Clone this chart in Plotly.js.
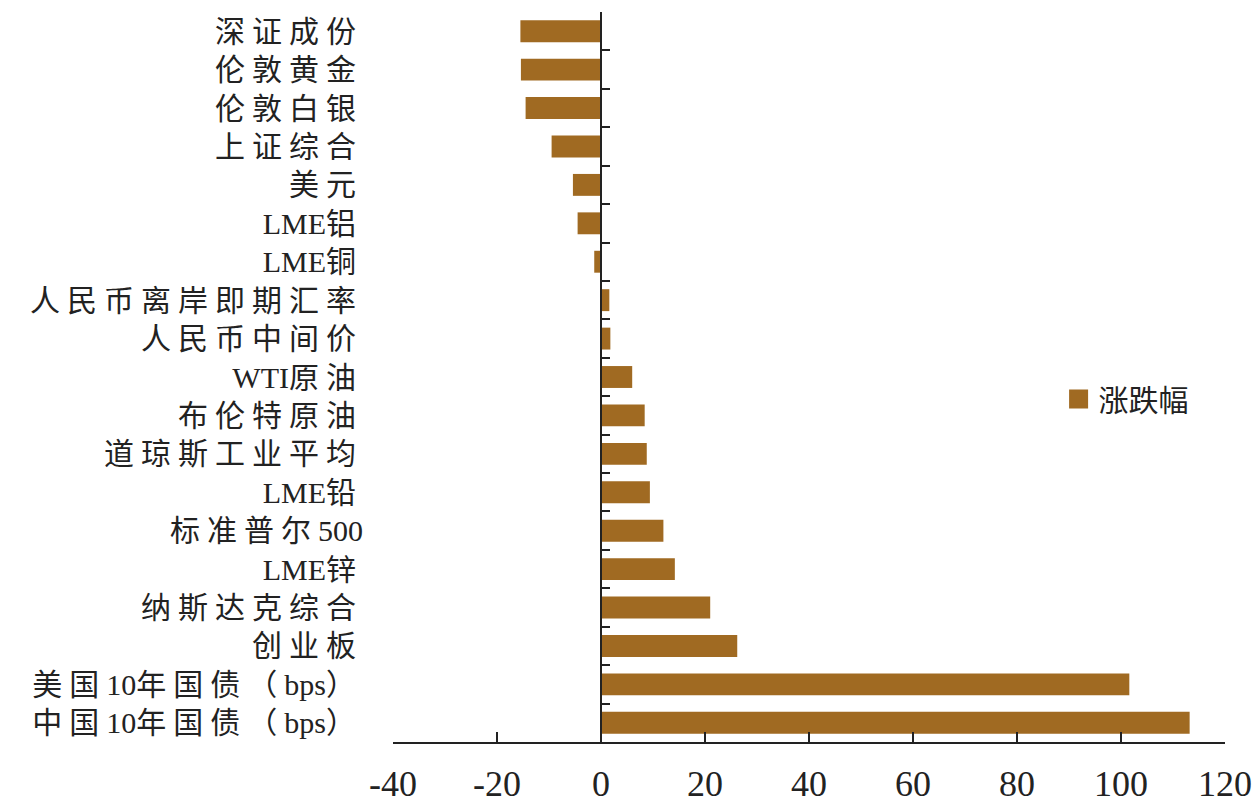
<!DOCTYPE html>
<html>
<head>
<meta charset="utf-8">
<script src="https://cdn.plot.ly/plotly-3.0.1.min.js"></script>
<style>
html,body{margin:0;padding:0;background:#fff;}
#chart{width:1254px;height:803px;}
#chart .ytick text{letter-spacing:7px;}
#chart .legendpoints path{stroke:#A06A22 !important;stroke-width:7px !important;stroke-opacity:1 !important;}
</style>
</head>
<body>
<div id="chart"></div>
<script>
// Categories listed top to bottom
const categories = [
  "深证成份", "伦敦黄金", "伦敦白银", "上证综合", "美元", "LME铝", "LME铜",
  "人民币离岸即期汇率", "人民币中间价", "WTI原油", "布伦特原油", "道琼斯工业平均",
  "LME铅", "标准普尔500", "LME锌", "纳斯达克综合", "创业板",
  "美国10年国债（bps）", "中国10年国债（bps）"
];
const changes = [
  -15.5, -15.4, -14.5, -9.5, -5.4, -4.5, -1.3,
  1.6, 1.8, 6.0, 8.4, 8.8,
  9.4, 12.0, 14.2, 21.0, 26.2,
  101.6, 113.2
];
const seriesName = "涨跌幅";
const xTickVals = [-40, -20, 0, 20, 40, 60, 80, 100, 120];

const barColor = "#A06A22";
const inkColor = "#222222";
const fontFamily = "'Liberation Serif', 'Noto Sans CJK SC', serif";

// Latin runs keep normal spacing; CJK runs are spaced out via CSS
const categoryLabels = categories.map(c =>
  c.replace(/[A-Za-z0-9]+/g, m => '<span style="letter-spacing:0px">' + m + '</span>')
);

const traces = [
  {
    type: "bar",
    orientation: "h",
    x: changes,
    y: categories,
    name: seriesName,
    marker: {color: barColor},
    hoverinfo: "x+y"
  },
  {
    type: "bar",
    orientation: "h",
    x: changes,
    y: categories,
    yaxis: "y2",
    showlegend: false,
    opacity: 0,
    hoverinfo: "skip"
  }
];

const layout = {
  width: 1254,
  height: 803,
  margin: {l: 393, r: 29, t: 12, b: 61},
  paper_bgcolor: "#ffffff",
  plot_bgcolor: "#ffffff",
  bargap: 0.43,
  showlegend: true,
  legend: {
    x: 0.80, y: 0.47, xanchor: "left", yanchor: "middle",
    font: {family: fontFamily, size: 30, color: inkColor},
    bgcolor: "rgba(0,0,0,0)",
    itemclick: false
  },
  xaxis: {
    range: [-40, 120],
    tickvals: xTickVals,
    ticktext: xTickVals.map(v => String(v)),
    showgrid: false,
    zeroline: false,
    showline: true,
    linecolor: inkColor,
    linewidth: 2,
    ticks: "inside",
    ticklen: 10,
    tickwidth: 2,
    tickcolor: inkColor,
    ticklabelstandoff: 9,
    tickfont: {family: fontFamily, size: 36, color: inkColor},
    fixedrange: true
  },
  yaxis: {
    type: "category",
    categoryorder: "array",
    categoryarray: categories,
    tickvals: categories,
    ticktext: categoryLabels,
    autorange: "reversed",
    showgrid: false,
    zeroline: false,
    showline: false,
    ticks: "",
    ticklabelstandoff: 29,
    tickfont: {family: fontFamily, size: 30, color: inkColor},
    fixedrange: true
  },
  yaxis2: {
    type: "category",
    categoryorder: "array",
    categoryarray: categories,
    autorange: "reversed",
    overlaying: "y",
    anchor: "free",
    position: 0.25,
    side: "left",
    showgrid: false,
    zeroline: false,
    showline: true,
    linecolor: inkColor,
    linewidth: 2,
    ticks: "inside",
    tickson: "boundaries",
    ticklen: 8,
    tickwidth: 2,
    tickcolor: inkColor,
    showticklabels: false,
    fixedrange: true
  }
};

Plotly.newPlot("chart", traces, layout, {displayModeBar: false, staticPlot: true});
</script>
</body>
</html>
